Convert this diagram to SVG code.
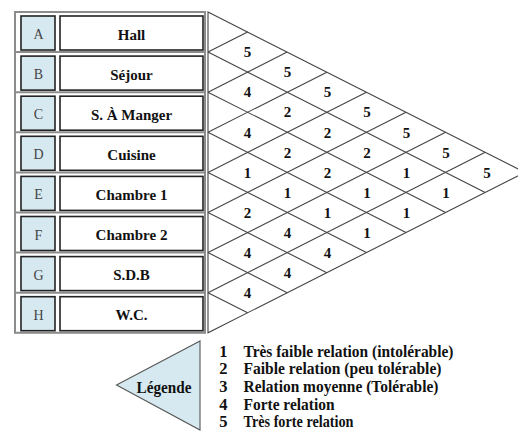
<svg xmlns="http://www.w3.org/2000/svg" width="518" height="431" viewBox="0 0 518 431">
  <style>
    .frame { fill: none; stroke: #8c8c8c; stroke-width: 2; }
    .sep { stroke: #8c8c8c; stroke-width: 2; }
    .code { fill: #d6e9f0; stroke: #222; stroke-width: 1.6; }
    .name { fill: #fff; stroke: #222; stroke-width: 1.6; }
    text { font-family: "Liberation Serif", "Times New Roman", Times, "DejaVu Serif", serif; }
    .codeTxt { font-size: 14px; fill: #444; text-anchor: middle; }
    .nameTxt { font-size: 15px; font-weight: bold; fill: #111; text-anchor: middle; }
    .grid { fill: none; stroke: #444; stroke-width: 1.1; }
    .val { font-size: 15px; font-weight: bold; fill: #111; text-anchor: middle; }
    .legTri { fill: #d6e9f0; stroke: #555; stroke-width: 1.1; }
    .legTxt { font-size: 16.5px; font-weight: bold; fill: #111; }
  </style>

  <!-- room list frame -->
  <g id="frame">
    <rect class="frame" x="15" y="12" width="190" height="320.8"/>
    <line class="sep" x1="15" y1="52.1" x2="205" y2="52.1"/>
    <line class="sep" x1="15" y1="92.2" x2="205" y2="92.2"/>
    <line class="sep" x1="15" y1="132.3" x2="205" y2="132.3"/>
    <line class="sep" x1="15" y1="172.4" x2="205" y2="172.4"/>
    <line class="sep" x1="15" y1="212.5" x2="205" y2="212.5"/>
    <line class="sep" x1="15" y1="252.6" x2="205" y2="252.6"/>
    <line class="sep" x1="15" y1="292.7" x2="205" y2="292.7"/>
  </g>

  <g id="room-A">
    <rect class="code" x="21" y="16" width="34" height="34"/>
    <rect class="name" x="60" y="16" width="143" height="34"/>
    <text class="codeTxt" x="38.5" y="39">A</text>
    <text class="nameTxt" x="131.5" y="39.5">Hall</text>
  </g>
  <g id="room-B">
    <rect class="code" x="21" y="56.1" width="34" height="34"/>
    <rect class="name" x="60" y="56.1" width="143" height="34"/>
    <text class="codeTxt" x="38.5" y="79.1">B</text>
    <text class="nameTxt" x="131.5" y="79.6">Séjour</text>
  </g>
  <g id="room-C">
    <rect class="code" x="21" y="96.2" width="34" height="34"/>
    <rect class="name" x="60" y="96.2" width="143" height="34"/>
    <text class="codeTxt" x="38.5" y="119.2">C</text>
    <text class="nameTxt" x="131.5" y="119.7">S. À Manger</text>
  </g>
  <g id="room-D">
    <rect class="code" x="21" y="136.3" width="34" height="34"/>
    <rect class="name" x="60" y="136.3" width="143" height="34"/>
    <text class="codeTxt" x="38.5" y="159.3">D</text>
    <text class="nameTxt" x="131.5" y="159.8">Cuisine</text>
  </g>
  <g id="room-E">
    <rect class="code" x="21" y="176.4" width="34" height="34"/>
    <rect class="name" x="60" y="176.4" width="143" height="34"/>
    <text class="codeTxt" x="38.5" y="199.4">E</text>
    <text class="nameTxt" x="131.5" y="199.9">Chambre 1</text>
  </g>
  <g id="room-F">
    <rect class="code" x="21" y="216.5" width="34" height="34"/>
    <rect class="name" x="60" y="216.5" width="143" height="34"/>
    <text class="codeTxt" x="38.5" y="239.5">F</text>
    <text class="nameTxt" x="131.5" y="240">Chambre 2</text>
  </g>
  <g id="room-G">
    <rect class="code" x="21" y="256.6" width="34" height="34"/>
    <rect class="name" x="60" y="256.6" width="143" height="34"/>
    <text class="codeTxt" x="38.5" y="279.6">G</text>
    <text class="nameTxt" x="131.5" y="280.1">S.D.B</text>
  </g>
  <g id="room-H">
    <rect class="code" x="21" y="296.7" width="34" height="34"/>
    <rect class="name" x="60" y="296.7" width="143" height="34"/>
    <text class="codeTxt" x="38.5" y="319.7">H</text>
    <text class="nameTxt" x="131.5" y="320.2">W.C.</text>
  </g>

  <!-- relationship matrix: triangular diamond lattice -->
  <g id="connectors">
    <polygon class="grid" points="208,12 524.8,172.4 208,332.8"/>
    <line class="grid" x1="208" y1="52.1" x2="485.2" y2="192.45"/>
    <line class="grid" x1="208" y1="92.2" x2="445.6" y2="212.5"/>
    <line class="grid" x1="208" y1="132.3" x2="406" y2="232.55"/>
    <line class="grid" x1="208" y1="172.4" x2="366.4" y2="252.6"/>
    <line class="grid" x1="208" y1="212.5" x2="326.8" y2="272.65"/>
    <line class="grid" x1="208" y1="252.6" x2="287.2" y2="292.7"/>
    <line class="grid" x1="208" y1="292.7" x2="247.6" y2="312.75"/>
    <line class="grid" x1="208" y1="52.1" x2="247.6" y2="32.05"/>
    <line class="grid" x1="208" y1="92.2" x2="287.2" y2="52.1"/>
    <line class="grid" x1="208" y1="132.3" x2="326.8" y2="72.15"/>
    <line class="grid" x1="208" y1="172.4" x2="366.4" y2="92.2"/>
    <line class="grid" x1="208" y1="212.5" x2="406" y2="112.25"/>
    <line class="grid" x1="208" y1="252.6" x2="445.6" y2="132.3"/>
    <line class="grid" x1="208" y1="292.7" x2="485.2" y2="152.35"/>
  </g>

  <!-- relationship values -->
  <g id="values">
    <text class="val" x="247.6" y="57.3">5</text>
    <text class="val" x="247.6" y="97.4">4</text>
    <text class="val" x="247.6" y="137.5">4</text>
    <text class="val" x="247.6" y="177.6">1</text>
    <text class="val" x="247.6" y="217.7">2</text>
    <text class="val" x="247.6" y="257.8">4</text>
    <text class="val" x="247.6" y="297.9">4</text>

    <text class="val" x="287.5" y="77.3">5</text>
    <text class="val" x="287.5" y="117.4">2</text>
    <text class="val" x="287.5" y="157.5">2</text>
    <text class="val" x="287.5" y="197.6">1</text>
    <text class="val" x="287.5" y="237.7">4</text>
    <text class="val" x="287.5" y="277.8">4</text>

    <text class="val" x="327.5" y="97.4">5</text>
    <text class="val" x="327.5" y="137.5">2</text>
    <text class="val" x="327.5" y="177.6">2</text>
    <text class="val" x="327.5" y="217.7">1</text>
    <text class="val" x="327.5" y="257.8">4</text>

    <text class="val" x="367" y="117.4">5</text>
    <text class="val" x="367" y="157.5">2</text>
    <text class="val" x="367" y="197.6">1</text>
    <text class="val" x="367" y="237.7">1</text>

    <text class="val" x="406.5" y="137.5">5</text>
    <text class="val" x="406.5" y="177.6">1</text>
    <text class="val" x="406.5" y="217.7">1</text>

    <text class="val" x="446" y="157.5">5</text>
    <text class="val" x="446" y="197.6">1</text>

    <text class="val" x="487" y="177.6">5</text>
  </g>

  <!-- legend -->
  <g id="legend">
    <polygon class="legTri" points="200,341 116.5,385 200,430"/>
    <text class="legTxt" x="164" y="392.5" text-anchor="middle" textLength="55" lengthAdjust="spacingAndGlyphs">Légende</text>
    <text class="legTxt" x="223.3" y="356.5" text-anchor="middle">1</text>
    <text class="legTxt" x="223.3" y="374.3" text-anchor="middle">2</text>
    <text class="legTxt" x="223.3" y="392.1" text-anchor="middle">3</text>
    <text class="legTxt" x="223.3" y="409.9" text-anchor="middle">4</text>
    <text class="legTxt" x="223.3" y="427" text-anchor="middle">5</text>
    <text class="legTxt" x="243.5" y="356.5" textLength="210" lengthAdjust="spacingAndGlyphs">Très faible relation (intolérable)</text>
    <text class="legTxt" x="243.5" y="374.3" textLength="198" lengthAdjust="spacingAndGlyphs">Faible relation (peu tolérable)</text>
    <text class="legTxt" x="243.5" y="392.1" textLength="195" lengthAdjust="spacingAndGlyphs">Relation moyenne (Tolérable)</text>
    <text class="legTxt" x="243.5" y="409.9" textLength="91" lengthAdjust="spacingAndGlyphs">Forte relation</text>
    <text class="legTxt" x="243.5" y="427" textLength="110" lengthAdjust="spacingAndGlyphs">Très forte relation</text>
  </g>
</svg>
